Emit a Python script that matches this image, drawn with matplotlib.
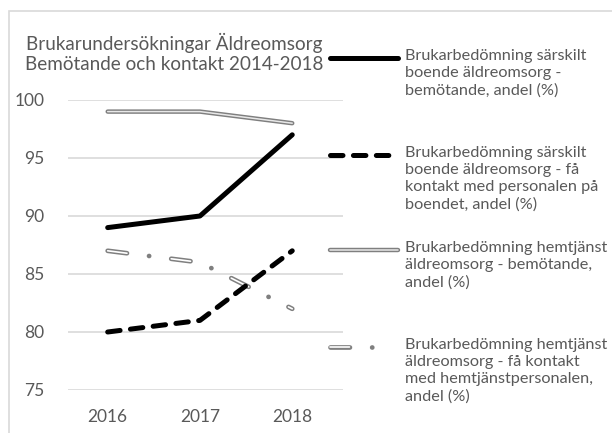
import matplotlib.pyplot as plt
from matplotlib.lines import Line2D
from matplotlib.patches import Rectangle

plt.rcParams['font.family'] = ['Lato', 'DejaVu Sans']
plt.rcParams['lines.scale_dashes'] = False

years = ['2016', '2017', '2018']
sabo_bemot = [89, 90, 97]
sabo_kontakt = [80, 81, 87]
hemtj_bemot = [99, 99, 98]
hemtj_kontakt = [87, 86, 82]
labels = [
    'Brukarbedömning särskilt\nboende äldreomsorg -\nbemötande, andel (%)',
    'Brukarbedömning särskilt\nboende äldreomsorg - få\nkontakt med personalen på\nboendet, andel (%)',
    'Brukarbedömning hemtjänst\näldreomsorg - bemötande,\nandel (%)',
    'Brukarbedömning hemtjänst\näldreomsorg - få kontakt\nmed hemtjänstpersonalen,\nandel (%)',
]
title = 'Brukarundersökningar Äldreomsorg\nBemötande och kontakt 2014-2018'

W, H = 612, 433
fig = plt.figure(figsize=(W / 100, H / 100), dpi=100)
ax = fig.add_axes([68 / W, 1 - 390 / H, 275 / W, 290 / H])

txt = '#595959'
grid = '#d9d9d9'
x = range(len(years))

ax.plot(x, sabo_bemot, color='black', lw=3.6, solid_capstyle='round', zorder=4)
ax.plot(x, sabo_kontakt, color='black', lw=3.6, dashes=(9, 7.5),
        dash_capstyle='round', zorder=4)
ax.plot(x, hemtj_bemot, color='#7f7f7f', lw=3.2, solid_capstyle='round', zorder=3)
ax.plot(x, hemtj_bemot, color='#e8e8e8', lw=1.1, solid_capstyle='round', zorder=3)
ax.plot(x, hemtj_kontakt, color='#7f7f7f', lw=3.4, dashes=(14, 16, 0.1, 16),
        dash_capstyle='round', zorder=3)
ax.plot(x, hemtj_kontakt, color='white', lw=1.2, dashes=(14, 32.1),
        dash_capstyle='round', zorder=3)

ax.set_xlim(-0.43, 2.55)
ax.set_ylim(75, 100)
ax.set_yticks([75, 80, 85, 90, 95, 100])
ax.set_xticks(list(x))
ax.set_xticklabels(years)
ax.grid(axis='y', color=grid, lw=1.2)
ax.set_axisbelow(True)
for s in ax.spines.values():
    s.set_visible(False)
ax.tick_params(length=0, labelsize=12.5, colors=txt)
ax.tick_params(axis='y', pad=17)
ax.tick_params(axis='x', pad=14)

fig.text(174 / W, 1 - 53 / H, title, ha='center', va='center', fontsize=13.6,
         color=txt, linespacing=1.25)

# legend drawn by hand: sample on first text line
leg_y = [58, 155, 250, 347]
x0, x1 = 330 / W, 398 / W
for i, yy in enumerate(leg_y):
    fy = 1 - yy / H
    fig.text(405 / W, fy + 9 / H, labels[i], ha='left', va='top', fontsize=11.7,
             color=txt, linespacing=1.28)
fig.add_artist(Line2D([x0, x1], [1 - 58 / H] * 2, color='black', lw=3.6,
                      solid_capstyle='round'))
fig.add_artist(Line2D([x0, x1], [1 - 155 / H] * 2, color='black', lw=3.6,
                      dashes=(9, 7.5), dash_capstyle='round'))
fig.add_artist(Line2D([x0, x1], [1 - 250 / H] * 2, color='#7f7f7f', lw=3.2,
                      solid_capstyle='round'))
fig.add_artist(Line2D([x0, x1], [1 - 250 / H] * 2, color='#e8e8e8', lw=1.1,
                      solid_capstyle='round'))
x1b = 375 / W
fig.add_artist(Line2D([x0, x1b], [1 - 347 / H] * 2, color='#7f7f7f', lw=3.4,
                      dashes=(14, 16, 0.1, 16), dash_capstyle='round'))
fig.add_artist(Line2D([x0, x1b], [1 - 347 / H] * 2, color='white', lw=1.2,
                      dashes=(14, 32.1), dash_capstyle='round'))

fig.add_artist(Rectangle((8.5 / W, -0.1), 1.2, 1 - 11 / H + 0.1,
                         transform=fig.transFigure, fill=False,
                         edgecolor='#d9d9d9', lw=1.2))

fig.savefig('out.png', dpi=100)
